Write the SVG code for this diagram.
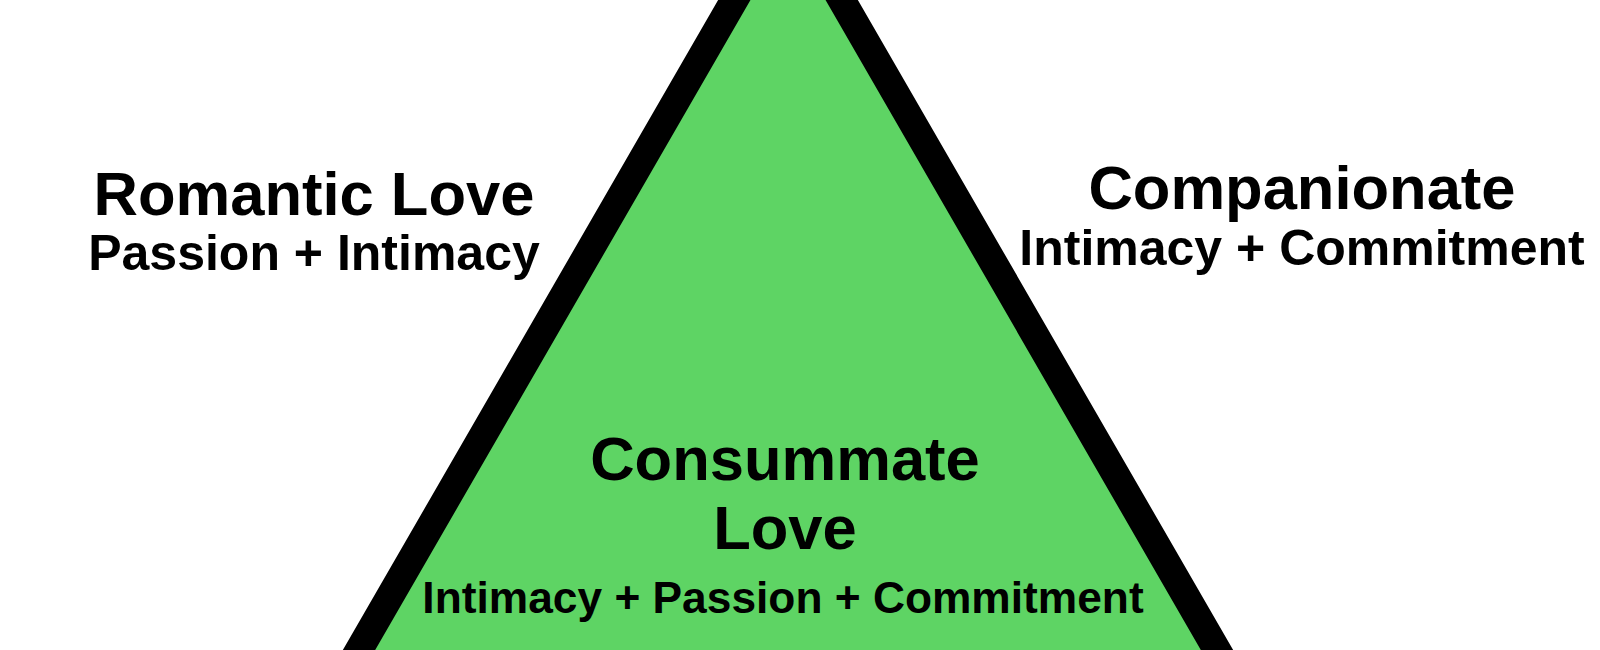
<svg xmlns="http://www.w3.org/2000/svg" width="1600" height="650" viewBox="0 0 1600 650">
  <style>
    .t { font-family: "Liberation Sans", Arial, sans-serif; font-weight: bold; fill: #000; text-anchor: middle; }
    .h { font-size: 61.5px; }
    .s { font-size: 50px; }
  </style>
  <rect width="1600" height="650" fill="#fff"/>
  <g id="triangle">
    <polygon points="788,-93 1257.4,720 318.6,720" fill="#5ed464" stroke="#000" stroke-width="28" stroke-linejoin="miter"/>
  </g>
  <g id="connectors"/>
  <g id="romantic">
    <text class="t h" x="314" y="215">Romantic Love</text>
    <text class="t s" x="314" y="270">Passion + Intimacy</text>
  </g>
  <g id="companionate">
    <text class="t h" x="1302" y="209">Companionate</text>
    <text class="t s" x="1302" y="265">Intimacy + Commitment</text>
  </g>
  <g id="consummate">
    <text class="t h" x="785" y="480">Consummate</text>
    <text class="t h" x="785" y="549">Love</text>
    <text class="t" style="font-size:44.3px" x="783" y="613">Intimacy + Passion + Commitment</text>
  </g>
</svg>
